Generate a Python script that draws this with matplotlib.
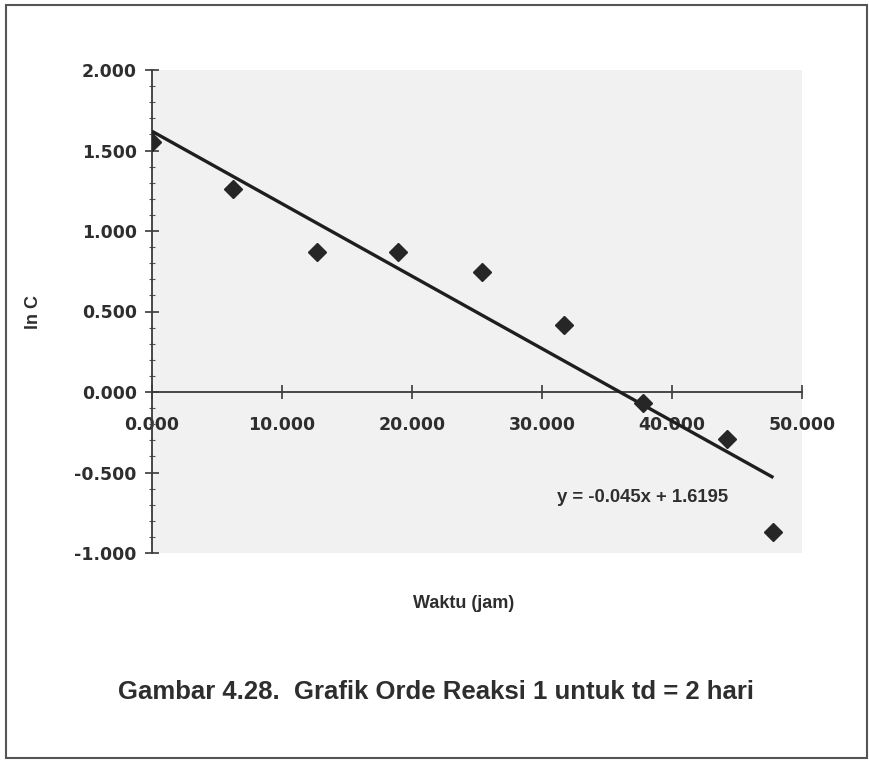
import matplotlib
matplotlib.use("Agg")
import matplotlib.pyplot as plt
from matplotlib import font_manager
from matplotlib.patches import Rectangle
from matplotlib.ticker import MultipleLocator, FuncFormatter

# Measured ln C against time (hours)
waktu = [0.0, 6.2, 12.7, 18.9, 25.4, 31.7, 37.8, 44.2, 47.8]
ln_c = [1.553, 1.26, 0.87, 0.87, 0.745, 0.416, -0.07, -0.29, -0.87]

# Linear trendline coefficients
slope = -0.045
intercept = 1.6195

x_ticks = [0, 10, 20, 30, 40, 50]
y_ticks = [-1.0, -0.5, 0.0, 0.5, 1.0, 1.5, 2.0]

plt.rcParams["font.family"] = ["Liberation Sans", "DejaVu Sans"]

installed = {f.name for f in font_manager.fontManager.ttflist}
if "Liberation Sans Narrow" in installed:
    caption_font, caption_size = "Liberation Sans Narrow", 22
else:
    caption_font, caption_size = "Liberation Sans", 18.5

W, H = 869, 760
fig = plt.figure(figsize=(W / 100, H / 100), dpi=100)
fig.patch.set_facecolor("white")

ax = fig.add_axes([152 / W, 1 - 553 / H, 650 / W, 483 / H])
ax.set_facecolor("#f1f1f1")

ax.set_xlim(0, 50)
ax.set_ylim(-1.0, 2.0)

# trendline over the observed time span
x0, x1 = min(waktu), max(waktu)
ax.plot([x0, x1], [intercept + slope * x0, intercept + slope * x1],
        color="#1e1e1e", lw=2.4, solid_capstyle="butt", zorder=3)

ax.plot(waktu, ln_c, linestyle="none", marker="D", markersize=9,
        color="#262626", zorder=4)

# axes: y axis at x=0, x axis at y=0
for s in ("top", "right"):
    ax.spines[s].set_visible(False)
ax.spines["bottom"].set_position(("data", 0))
ax.spines["left"].set_position(("data", 0))
for s in ("bottom", "left"):
    ax.spines[s].set_color("#3a3a3a")
    ax.spines[s].set_linewidth(1.3)

fmt = FuncFormatter(lambda v, p: f"{v:.3f}")
ax.set_xticks(x_ticks)
ax.set_yticks(y_ticks)
ax.xaxis.set_major_formatter(fmt)
ax.yaxis.set_major_formatter(fmt)
ax.yaxis.set_minor_locator(MultipleLocator(0.1))

ax.tick_params(axis="both", which="major", direction="inout", length=10,
               width=1.2, color="#3a3a3a", labelcolor="#2e2e2e")
ax.tick_params(axis="x", which="major", pad=12)
ax.tick_params(axis="y", which="major", pad=6)
ax.tick_params(axis="y", which="minor", direction="inout", length=4,
               width=0.8, color="#555555")
for lab in ax.get_xticklabels() + ax.get_yticklabels():
    lab.set_fontfamily("DejaVu Sans")
    lab.set_fontweight("bold")
    lab.set_fontsize(12.5)

ax.set_ylabel("ln C", fontsize=13, fontweight="bold", color="#2e2e2e")
ax.yaxis.set_label_coords((42 - 152) / 650, (553 - 312) / 483)

fig.text(557 / W, 1 - 497 / H, "y = -0.045x + 1.6195", fontsize=13.3,
         fontweight="bold", color="#2e2e2e", va="center", ha="left")

fig.text(464 / W, 1 - 603 / H, "Waktu (jam)", ha="center", va="center",
         fontsize=13, fontweight="bold", color="#2e2e2e")
fig.text(436 / W, 1 - 692 / H,
         "Gambar 4.28.  Grafik Orde Reaksi 1 untuk td = 2 hari",
         ha="center", va="center", fontsize=caption_size, fontweight="bold",
         family=caption_font, color="#2e2e2e")

# outer frame
fig.patches.append(Rectangle((6 / W, 1 - 758 / H), 861 / W, 753 / H,
                             transform=fig.transFigure, fill=False,
                             edgecolor="#555555", lw=1.5))

fig.savefig("out.png", dpi=100)
